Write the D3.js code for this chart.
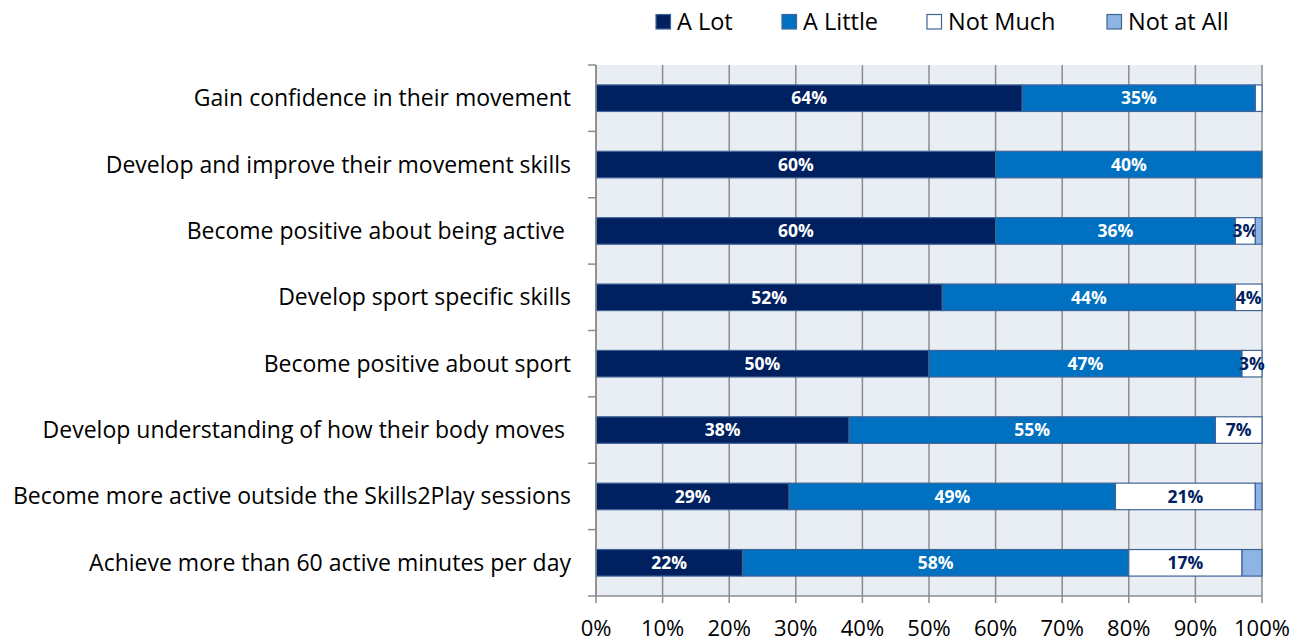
<!DOCTYPE html>
<html><head><meta charset="utf-8">
<script src="https://cdn.jsdelivr.net/npm/d3@7"></script>
<style>
body{margin:0;background:#fff;}
svg text{font-family:"Open Sans","Noto Sans",sans-serif;}
</style></head>
<body><svg id="chart" width="1308" height="641"></svg>
<script>
const categories = [
  "Gain confidence in their movement",
  "Develop and improve their movement skills",
  "Become positive about being active ",
  "Develop sport specific skills",
  "Become positive about sport",
  "Develop understanding of how their body moves ",
  "Become more active outside the Skills2Play sessions",
  "Achieve more than 60 active minutes per day"
];
const seriesNames = ["A Lot","A Little","Not Much","Not at All"];
const aLot     = [64,60,60,52,50,38,29,22];
const aLittle  = [35,40,36,44,47,55,49,58];
const notMuch  = [1,0,3,4,3,7,21,17];
const notAtAll = [0,0,1,0,0,0,1,3];
const xTicks = [0,10,20,30,40,50,60,70,80,90,100];
const colors = ["#002060","#0070C0","#FFFFFF","#8EB4E3"];
const labelColors = ["#FFFFFF","#FFFFFF","#002060",null];

const svg = d3.select("#chart");
const m = {left:596, right:46, top:65, bottom:45};
const W = 1308 - m.left - m.right, H = 641 - m.top - m.bottom;
const g = svg.append("g").attr("transform",`translate(${m.left},${m.top})`);

const x = d3.scaleLinear().domain([0,100]).range([0,W]);
const y = d3.scaleBand().domain(categories).range([0,H]).paddingInner(0.6).paddingOuter(0.3);

g.append("rect").attr("width",W).attr("height",H).attr("fill","#E9EDF4");
g.selectAll(".grid").data(xTicks).join("line")
  .attr("x1",d=>x(d)).attr("x2",d=>x(d)).attr("y1",0).attr("y2",H)
  .attr("stroke","#8C8C8C").attr("stroke-width",1.5);

const rows = categories.map((c,i)=>({cat:c, a:aLot[i], b:aLittle[i], c2:notMuch[i], d:notAtAll[i]}));
const stack = d3.stack().keys(["a","b","c2","d"])(rows);

stack.forEach((layer,li)=>{
  const lg = g.append("g");
  lg.selectAll("rect").data(layer.filter(s=>s[1]-s[0]>0)).join("rect")
    .attr("x",s=>x(s[0])).attr("width",s=>x(s[1])-x(s[0]))
    .attr("y",s=>y(s.data.cat)).attr("height",y.bandwidth())
    .attr("fill",colors[li]).attr("stroke","#3F6497").attr("stroke-width",1.2);
  if(!labelColors[li]) return;
  lg.selectAll("text").data(layer.filter(s=>s[1]-s[0]>=3)).join("text")
    .attr("x",s=>x((s[0]+s[1])/2)).attr("y",s=>y(s.data.cat)+y.bandwidth()/2)
    .attr("dy","0.36em").attr("text-anchor","middle")
    .attr("font-size",17.5).attr("font-weight","bold").attr("fill",labelColors[li])
    .text(s=>(s[1]-s[0])+"%");
});

// left axis
const ya = g.append("g");
ya.append("line").attr("x1",0).attr("x2",0).attr("y1",0).attr("y2",H).attr("stroke","#8C8C8C").attr("stroke-width",1.5);
const bounds = d3.range(categories.length+1).map(i=>i*y.step());
ya.selectAll(".tk").data(bounds).join("line")
  .attr("x1",-8).attr("x2",0).attr("y1",d=>d).attr("y2",d=>d).attr("stroke","#8C8C8C").attr("stroke-width",1.5);
ya.selectAll("text").data(categories).join("text")
  .attr("x",-25).attr("y",d=>y(d)+y.bandwidth()/2).attr("dy","0.35em")
  .attr("text-anchor","end").attr("font-size",23).attr("fill","#000")
  .style("white-space","pre").text(d=>d);

// bottom axis
const xa = g.append("g").attr("transform",`translate(0,${H})`);
xa.append("line").attr("x1",0).attr("x2",W).attr("stroke","#8C8C8C").attr("stroke-width",1.5);
xa.selectAll(".tk").data(xTicks).join("line")
  .attr("x1",d=>x(d)).attr("x2",d=>x(d)).attr("y1",0).attr("y2",7).attr("stroke","#8C8C8C").attr("stroke-width",1.5);
xa.selectAll("text").data(xTicks).join("text")
  .attr("x",d=>x(d)).attr("y",32).attr("dy","0.35em").attr("text-anchor","middle")
  .attr("font-size",22).attr("fill","#000").text(d=>d+"%");

// legend
const legX = [656,782,927,1107];
const lgd = svg.append("g");
seriesNames.forEach((n,i)=>{
  lgd.append("rect").attr("x",legX[i]).attr("y",14.5).attr("width",14.5).attr("height",14.5)
    .attr("fill",colors[i]).attr("stroke","#3F6497").attr("stroke-width",1.2);
  lgd.append("text").attr("x",legX[i]+21).attr("y",29.5)
    .attr("font-size",23.5).attr("fill","#000").text(n);
});
</script></body></html>
